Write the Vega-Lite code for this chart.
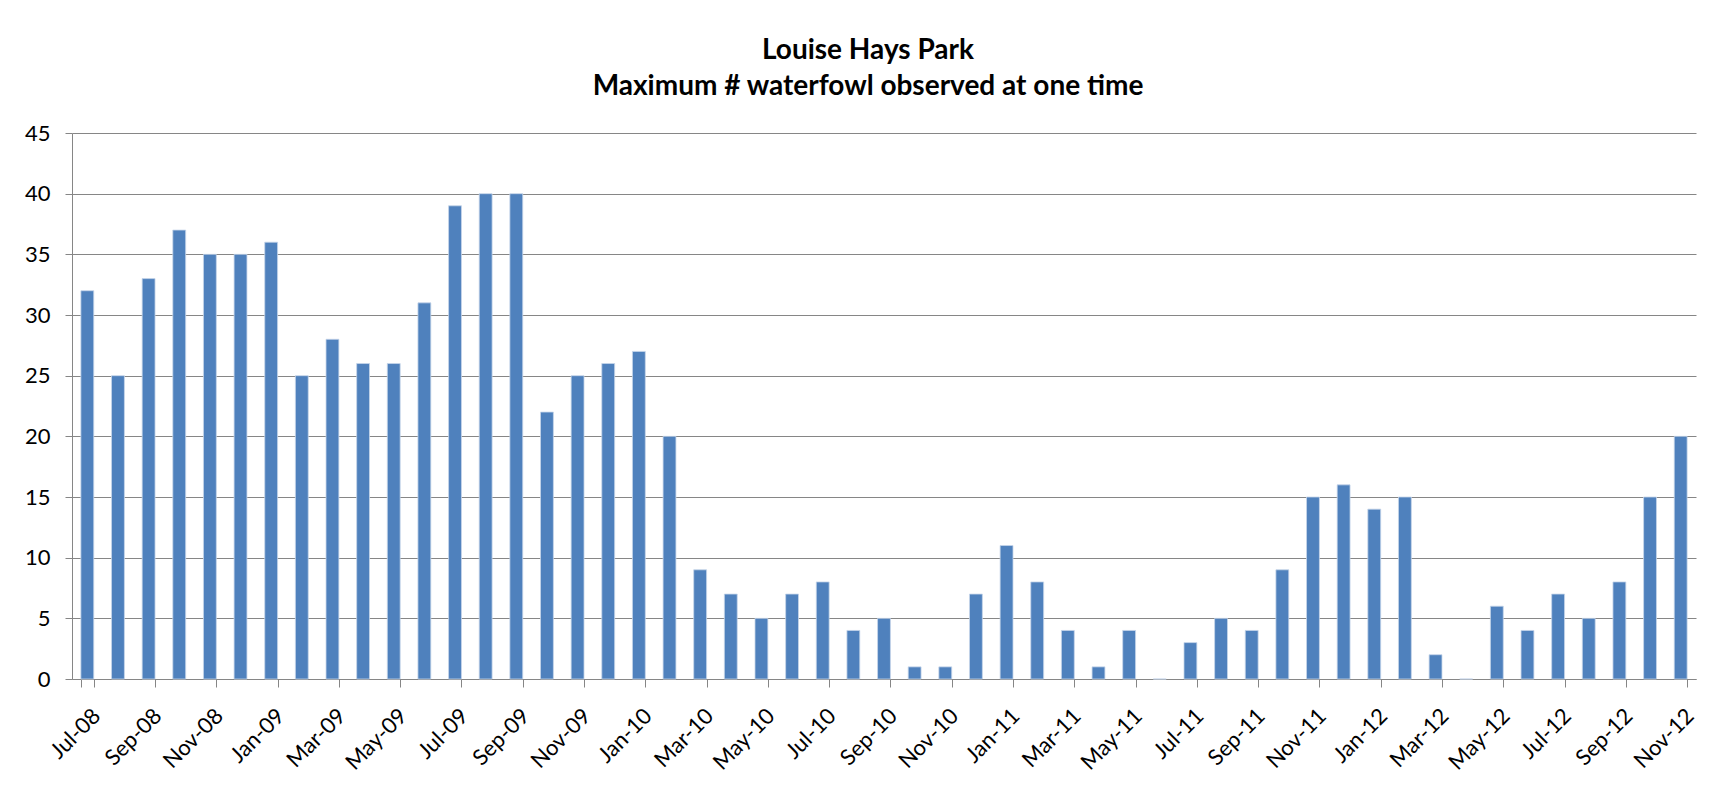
{
  "$schema": "https://vega.github.io/schema/vega-lite/v6.json",
  "width": 1624,
  "height": 546,
  "autosize": {"type": "none"},
  "padding": {"left": 72, "top": 133, "right": 30, "bottom": 107},
  "background": "white",
  "title": {
    "text": ["Louise Hays Park", "Maximum # waterfowl observed at one time"],
    "font": "Lato",
    "fontSize": 28,
    "fontWeight": "bold",
    "color": "#000000",
    "anchor": "middle",
    "frame": "group",
    "baseline": "bottom",
    "lineHeight": 36,
    "offset": -7,
    "dx": -16
  },
  "data": {
    "values": [
      {"month": "Jul-08", "count": 32},
      {"month": "Aug-08", "count": 25},
      {"month": "Sep-08", "count": 33},
      {"month": "Oct-08", "count": 37},
      {"month": "Nov-08", "count": 35},
      {"month": "Dec-08", "count": 35},
      {"month": "Jan-09", "count": 36},
      {"month": "Feb-09", "count": 25},
      {"month": "Mar-09", "count": 28},
      {"month": "Apr-09", "count": 26},
      {"month": "May-09", "count": 26},
      {"month": "Jun-09", "count": 31},
      {"month": "Jul-09", "count": 39},
      {"month": "Aug-09", "count": 40},
      {"month": "Sep-09", "count": 40},
      {"month": "Oct-09", "count": 22},
      {"month": "Nov-09", "count": 25},
      {"month": "Dec-09", "count": 26},
      {"month": "Jan-10", "count": 27},
      {"month": "Feb-10", "count": 20},
      {"month": "Mar-10", "count": 9},
      {"month": "Apr-10", "count": 7},
      {"month": "May-10", "count": 5},
      {"month": "Jun-10", "count": 7},
      {"month": "Jul-10", "count": 8},
      {"month": "Aug-10", "count": 4},
      {"month": "Sep-10", "count": 5},
      {"month": "Oct-10", "count": 1},
      {"month": "Nov-10", "count": 1},
      {"month": "Dec-10", "count": 7},
      {"month": "Jan-11", "count": 11},
      {"month": "Feb-11", "count": 8},
      {"month": "Mar-11", "count": 4},
      {"month": "Apr-11", "count": 1},
      {"month": "May-11", "count": 4},
      {"month": "Jun-11", "count": 0},
      {"month": "Jul-11", "count": 3},
      {"month": "Aug-11", "count": 5},
      {"month": "Sep-11", "count": 4},
      {"month": "Oct-11", "count": 9},
      {"month": "Nov-11", "count": 15},
      {"month": "Dec-11", "count": 16},
      {"month": "Jan-12", "count": 14},
      {"month": "Feb-12", "count": 15},
      {"month": "Mar-12", "count": 2},
      {"month": "Apr-12", "count": 0},
      {"month": "May-12", "count": 6},
      {"month": "Jun-12", "count": 4},
      {"month": "Jul-12", "count": 7},
      {"month": "Aug-12", "count": 5},
      {"month": "Sep-12", "count": 8},
      {"month": "Oct-12", "count": 15},
      {"month": "Nov-12", "count": 20}
    ]
  },
  "mark": {"type": "bar", "color": "#4F81BD", "stroke": "#C6D6EA", "strokeWidth": 0.8},
  "encoding": {
    "x": {
      "field": "month",
      "type": "ordinal",
      "sort": null,
      "scale": {"paddingInner": 0.58, "paddingOuter": 0.29},
      "axis": {
        "title": null,
        "values": ["Jul-08", "Sep-08", "Nov-08", "Jan-09", "Mar-09", "May-09", "Jul-09", "Sep-09", "Nov-09", "Jan-10", "Mar-10", "May-10", "Jul-10", "Sep-10", "Nov-10", "Jan-11", "Mar-11", "May-11", "Jul-11", "Sep-11", "Nov-11", "Jan-12", "Mar-12", "May-12", "Jul-12", "Sep-12", "Nov-12"],
        "tickBand": "extent",
        "labelAngle": -45,
        "labelAlign": "right",
        "labelBaseline": "top",
        "labelPadding": 18,
        "labelOffset": 2,
        "labelFont": "Lato",
        "labelFontSize": 22,
        "labelColor": "#000000",
        "domainColor": "#868686",
        "tickColor": "#868686",
        "tickSize": 8,
        "grid": false
      }
    },
    "y": {
      "field": "count",
      "type": "quantitative",
      "scale": {"domain": [0, 45], "nice": false},
      "axis": {
        "title": null,
        "values": [0, 5, 10, 15, 20, 25, 30, 35, 40, 45],
        "labelFont": "Lato",
        "labelFontSize": 22,
        "labelColor": "#000000",
        "labelPadding": 15,
        "domainColor": "#868686",
        "tickColor": "#868686",
        "tickSize": 7,
        "grid": true,
        "gridColor": "#868686",
        "gridWidth": 1
      }
    }
  },
  "config": {"view": {"stroke": null}}
}
